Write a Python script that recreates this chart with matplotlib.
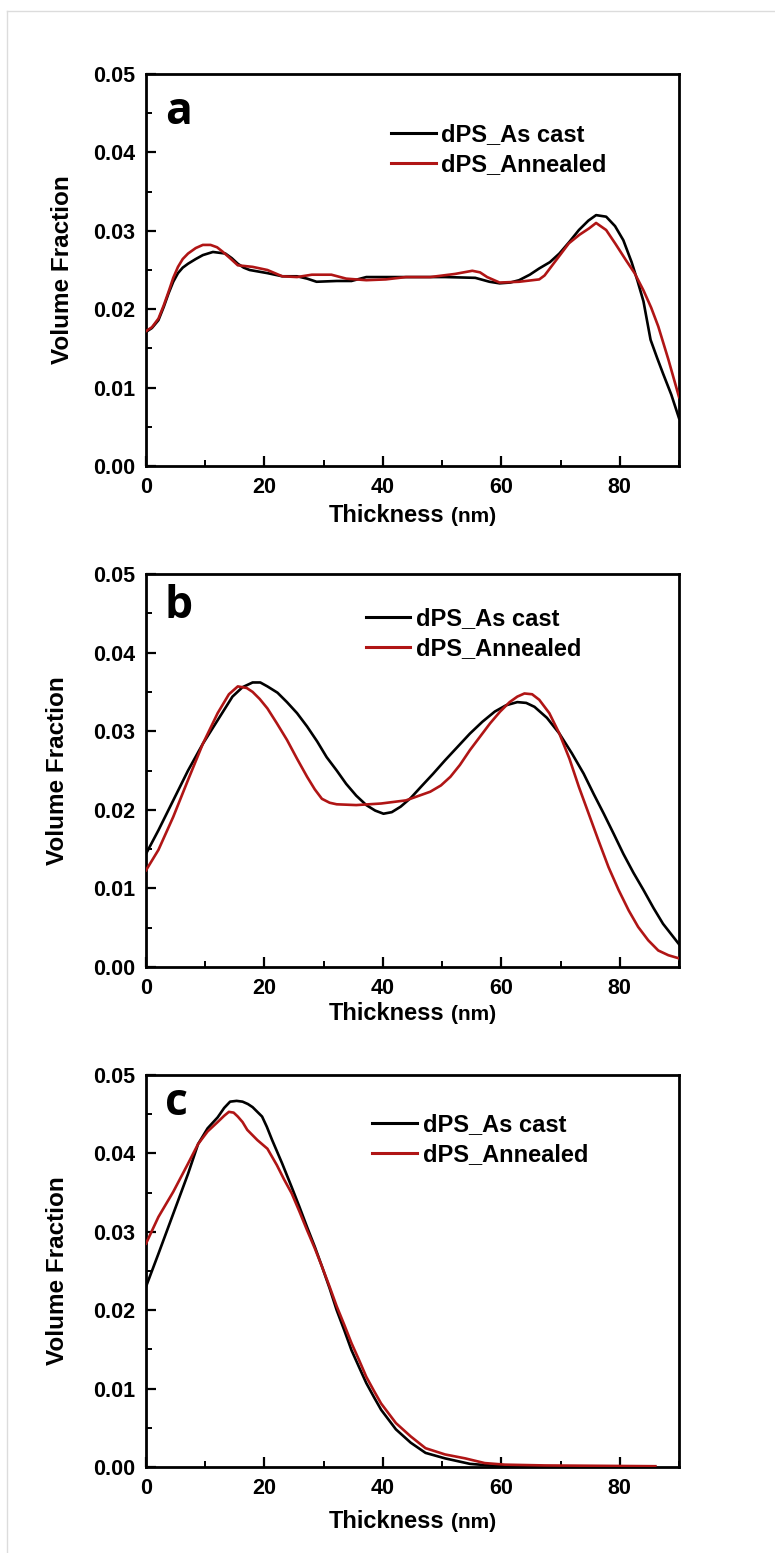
import matplotlib
matplotlib.use('Agg')
import matplotlib.pyplot as plt
from matplotlib.ticker import MultipleLocator, FormatStrFormatter
from matplotlib.offsetbox import TextArea, HPacker, AnchoredOffsetbox
from matplotlib.lines import Line2D

plt.rcParams['font.family'] = ['Liberation Sans', 'DejaVu Sans']
plt.rcParams['font.weight'] = 'bold'
plt.rcParams['axes.labelweight'] = 'bold'

# ---------------- data ----------------
series_labels = ["dPS_As cast", "dPS_Annealed"]
panel_letters = ["a", "b", "c"]

a_cast_x = [0, 1, 2.1, 3.0, 3.8, 4.6, 5.4, 6.2, 7.1, 8.4, 9.6, 11.3, 13.4, 14.5, 15.5, 16.5, 17.5, 20.5, 23,
            25.5, 27.2, 28.8, 32.2, 34.7, 37.2, 42.2, 46.4, 50.5, 55.6, 58, 59.7, 61.5, 63, 64.8, 66.4,
            68.2, 69.8, 71.5, 73.1, 74.7, 76, 77.7, 79.2, 80.6, 82, 83, 84, 85.2, 86.3, 87.3, 88.7, 90]
a_cast_y = [0.0171, 0.0176, 0.0186, 0.0203, 0.0220, 0.0235, 0.0246, 0.0253, 0.0258, 0.0264, 0.0269, 0.0273,
            0.0271, 0.0265, 0.0258, 0.0253, 0.0250, 0.0246, 0.0242, 0.0242, 0.0239, 0.0235, 0.0236, 0.0236,
            0.0241, 0.0241, 0.0241, 0.0241, 0.0240, 0.0235, 0.0233, 0.0234, 0.0237, 0.0244, 0.0252, 0.0260,
            0.0271, 0.0286, 0.0301, 0.0313, 0.0320, 0.0318, 0.0306, 0.0288, 0.0260, 0.0236, 0.0210, 0.0161,
            0.0138, 0.0118, 0.0091, 0.0061]

a_ann_x = [0, 1, 2.1, 3.0, 3.8, 4.6, 5.4, 6.2, 7.1, 8.4, 9.6, 10.9, 12, 13, 14.2, 15.5, 18, 20.5, 23, 25.5,
           28, 31.3, 33.8, 37.2, 40.5, 43.9, 48, 52.2, 55.1, 56.4, 57.6, 59.7, 63, 66.4, 67.3, 68.2, 69.5,
           71.4, 73.2, 74.8, 76, 77.7, 79.3, 81, 82.5, 84, 85.3, 86.5, 88.2, 90]
a_ann_y = [0.0172, 0.0177, 0.0188, 0.0205, 0.0222, 0.0240, 0.0254, 0.0264, 0.0271, 0.0278, 0.0282, 0.0282,
           0.0279, 0.0273, 0.0265, 0.0256, 0.0254, 0.0250, 0.0242, 0.0241, 0.0244, 0.0244, 0.0239, 0.0237,
           0.0238, 0.0241, 0.0241, 0.0245, 0.0249, 0.0247, 0.0241, 0.0234, 0.0235, 0.0238, 0.0243, 0.0252,
           0.0265, 0.0284, 0.0295, 0.0303, 0.0310, 0.0301, 0.0283, 0.0263, 0.0246, 0.0224, 0.0202, 0.0178,
           0.0136, 0.0088]

b_cast_x = [0, 2.1, 4.6, 7.1, 9.6, 12.1, 14.6, 16.3, 18, 19.3, 20.5, 22.2, 23.8, 25.5, 27.2, 28.9, 30.5,
            32.2, 33.8, 35.5, 37.2, 38.7, 40.1, 41.5, 43, 44.7, 46.4, 48.5, 50.5, 52.6, 54.7, 56.8, 58.9,
            60.8, 62.7, 64.2, 65.6, 67.7, 69.8, 71.9, 73.9, 75.6, 77.3, 79, 80.6, 82.3, 84, 85.7, 87.3, 90]
b_cast_y = [0.0144, 0.0174, 0.0212, 0.0250, 0.0284, 0.0314, 0.0344, 0.0356, 0.0362, 0.0362, 0.0357, 0.0349,
            0.0337, 0.0323, 0.0306, 0.0287, 0.0267, 0.0250, 0.0233, 0.0218, 0.0206, 0.0199, 0.0195, 0.0197,
            0.0204, 0.0215, 0.0229, 0.0246, 0.0263, 0.0280, 0.0297, 0.0312, 0.0325, 0.0333, 0.0337, 0.0336,
            0.0331, 0.0317, 0.0297, 0.0272, 0.0246, 0.0220, 0.0195, 0.0169, 0.0144, 0.0120, 0.0098, 0.0075,
            0.0055, 0.0029]

b_ann_x = [0, 2.1, 4.6, 7.1, 9.6, 12.1, 14, 15.5, 17, 18, 19.2, 20.5, 22.1, 23.8, 25.5, 27.2, 28.5, 29.7,
           31, 32.2, 35.5, 39.7, 43.9, 48, 49.8, 51.4, 53, 54.7, 56.4, 58.1, 59.8, 61.4, 62.7, 63.9, 65.2,
           66.4, 68.1, 69.8, 71.5, 73.1, 74.8, 76.4, 78.1, 79.8, 81.5, 83.1, 84.8, 86.5, 88.2, 90]
b_ann_y = [0.0123, 0.0149, 0.0191, 0.0238, 0.0284, 0.0323, 0.0347, 0.0357, 0.0355, 0.0350, 0.0341, 0.0329,
           0.0310, 0.0289, 0.0265, 0.0242, 0.0226, 0.0214, 0.0209, 0.0207, 0.0206, 0.0208, 0.0212, 0.0223,
           0.0231, 0.0242, 0.0257, 0.0276, 0.0293, 0.0310, 0.0325, 0.0337, 0.0344, 0.0348, 0.0347, 0.0340,
           0.0323, 0.0297, 0.0265, 0.0229, 0.0194, 0.0161, 0.0127, 0.0098, 0.0072, 0.0051, 0.0034, 0.0021,
           0.0015, 0.0011]

c_cast_x = [0, 2.1, 4.6, 7.1, 8.8, 10.4, 12.1, 13.2, 14.2, 15.3, 16.3, 17.2, 18, 19.6, 20.4, 21.3, 23,
            24.6, 25.9, 27.2, 28.5, 29.7, 31, 32.2, 33.5, 34.7, 36, 37.2, 38.5, 39.7, 42.2, 44.7, 47.2,
            50.5, 54.7, 59.7, 65, 75, 86]
c_cast_y = [0.0230, 0.0272, 0.0323, 0.0374, 0.0412, 0.0432, 0.0446, 0.0458, 0.0466, 0.0467, 0.0466, 0.0463,
            0.0459, 0.0447, 0.0434, 0.0417, 0.0387, 0.0357, 0.0332, 0.0306, 0.0281, 0.0256, 0.0228, 0.0200,
            0.0174, 0.0149, 0.0127, 0.0107, 0.0089, 0.0073, 0.0048, 0.0031, 0.0018, 0.0011, 0.0004, 0.0001,
            0.00005, 0.0, 0.0]

c_ann_x = [0, 2.1, 4.6, 7.1, 8.8, 10.4, 12.1, 13.2, 14, 14.8, 15.5, 16.3, 17.1, 18.8, 20.5, 22.1, 23.3,
           24.6, 25.9, 27.2, 28.5, 29.7, 31, 32.2, 33.5, 34.7, 36, 37.2, 38.5, 39.7, 42.2, 44.7, 47.2,
           50.5, 53.9, 57.2, 60.6, 67.3, 86]
c_ann_y = [0.0285, 0.0319, 0.0351, 0.0387, 0.0412, 0.0428, 0.0440, 0.0448, 0.0453, 0.0452, 0.0447, 0.0440,
           0.0430, 0.0417, 0.0406, 0.0385, 0.0367, 0.0349, 0.0326, 0.0302, 0.0279, 0.0256, 0.0230, 0.0205,
           0.0181, 0.0158, 0.0136, 0.0115, 0.0097, 0.0081, 0.0056, 0.0039, 0.0024, 0.0016, 0.0011, 0.0005,
           0.0003, 0.0002, 0.0001]

x_ticks = [0, 20, 40, 60, 80]
y_ticks = [0.00, 0.01, 0.02, 0.03, 0.04, 0.05]

panels = [
    (a_cast_x, a_cast_y, a_ann_x, a_ann_y),
    (b_cast_x, b_cast_y, b_ann_x, b_ann_y),
    (c_cast_x, c_cast_y, c_ann_x, c_ann_y),
]

# ---------------- layout ----------------
W, H = 775, 1553
fig = plt.figure(figsize=(W / 100, H / 100), dpi=100)
fig.patch.set_facecolor('white')

# faint outer frame
fig.add_artist(Line2D([7 / W, 7 / W], [0, 1 - 11 / H], color='#dcdcdc', lw=1, transform=fig.transFigure))
fig.add_artist(Line2D([7 / W, 1], [1 - 11 / H, 1 - 11 / H], color='#dcdcdc', lw=1, transform=fig.transFigure))

rects = [
    [146 / W, 1 - 466 / H, 533 / W, 392 / H],
    [146 / W, 1 - 967 / H, 533 / W, 393 / H],
    [146 / W, 1 - 1467 / H, 533 / W, 392 / H],
]
legend_anchor = [(0.459, 0.875), (0.412, 0.915), (0.424, 0.902)]
letter_pos = [(0.035, 0.872), (0.035, 0.888), (0.035, 0.899)]
ylabel_x = [-0.135, -0.145, -0.145]
xlabel_y = [-0.125, -0.118, -0.140]

BLACK = '#000000'
RED = '#b01515'

for i, (cx, cy, ax_, ay_) in enumerate(panels):
    ax = fig.add_axes(rects[i])
    ax.plot(cx, cy, color=BLACK, lw=1.9, label=series_labels[0], zorder=3)
    ax.plot(ax_, ay_, color=RED, lw=1.9, label=series_labels[1], zorder=3)
    ax.set_xlim(0, 90)
    ax.set_ylim(0, 0.05)
    ax.set_xticks(x_ticks)
    ax.set_yticks(y_ticks)
    ax.xaxis.set_minor_locator(MultipleLocator(10))
    ax.yaxis.set_minor_locator(MultipleLocator(0.005))
    ax.yaxis.set_major_formatter(FormatStrFormatter('%.2f'))
    ax.tick_params(which='major', direction='in', length=7, width=1.6, labelsize=15.5, pad=8)
    ax.tick_params(which='minor', direction='in', length=4, width=1.4)
    ax.tick_params(top=False, right=False)
    for s in ax.spines.values():
        s.set_linewidth(2.0)

    ax.set_ylabel("Volume Fraction", fontsize=17.5, fontweight='bold')
    ax.yaxis.set_label_coords(ylabel_x[i], 0.5)

    t1 = TextArea("Thickness", textprops=dict(fontsize=17, fontweight='bold'))
    t2 = TextArea("(nm)", textprops=dict(fontsize=15, fontweight='bold'))
    box = HPacker(children=[t1, t2], align='baseline', pad=0, sep=5)
    ab = AnchoredOffsetbox(loc='center', child=box, pad=0, frameon=False,
                           bbox_to_anchor=(0.5, xlabel_y[i]), bbox_transform=ax.transAxes,
                           borderpad=0)
    ab.set_clip_on(False)
    ax.add_artist(ab)

    leg = ax.legend(loc='upper left', bbox_to_anchor=legend_anchor[i], frameon=False,
                    fontsize=17, handlelength=1.9, handletextpad=0.25, labelspacing=0.3,
                    borderpad=0, borderaxespad=0)
    for line in leg.get_lines():
        line.set_linewidth(2.2)

    ax.text(letter_pos[i][0], letter_pos[i][1], panel_letters[i], transform=ax.transAxes,
            fontsize=32, fontweight='bold', family=['Open Sans', 'DejaVu Sans'],
            ha='left', va='baseline')

fig.savefig('out.png', dpi=100, facecolor='white')
